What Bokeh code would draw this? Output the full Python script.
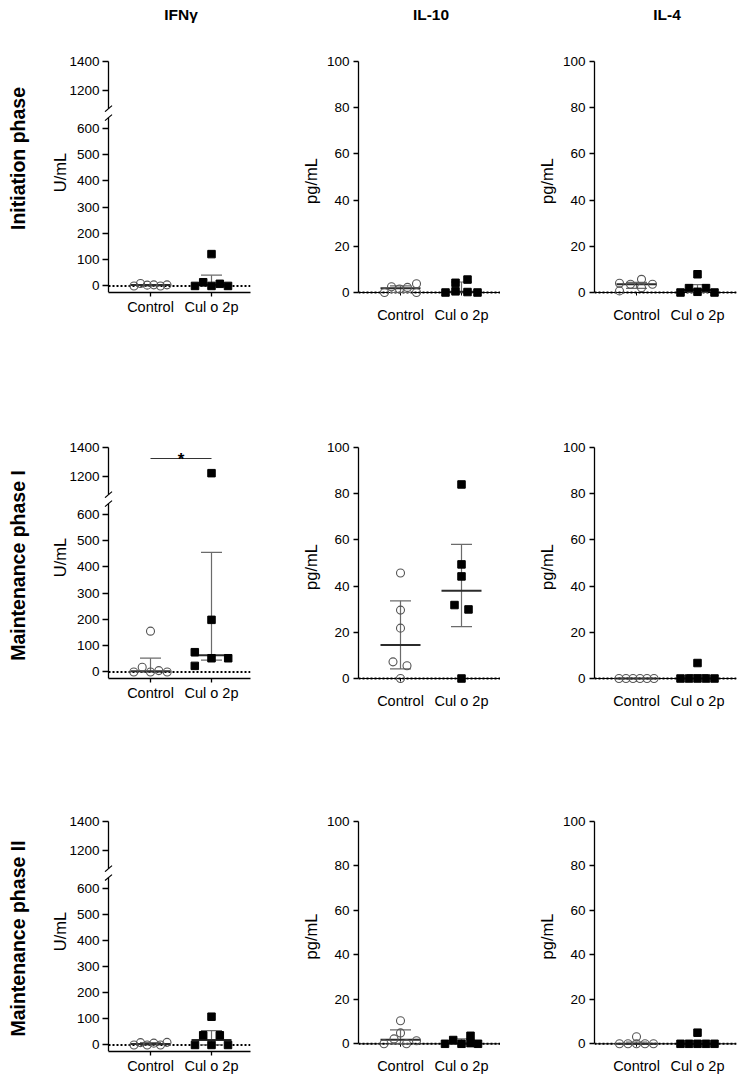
import numpy as np
from bokeh.plotting import figure
from bokeh.layouts import row, column
from bokeh.models import Range1d, FixedTicker, Label, Title
from bokeh.core.properties import value
from bokeh.embed import file_html
from bokeh.resources import INLINE

FONT = "Liberation Sans"

# ---------------------------------------------------------------- data
groups = ["Control", "Cul o 2p"]
phases = ["Initiation phase", "Maintenance phase I", "Maintenance phase II"]
cytokines = ["IFNγ", "IL-10", "IL-4"]
units = ["U/mL", "pg/mL", "pg/mL"]

ifng_ticks_low = [0, 100, 200, 300, 400, 500, 600]
ifng_ticks_high = [1200, 1400]
il_ticks = [0, 20, 40, 60, 80, 100]

# IFNγ, U/mL (six animals per group)
ifng_control_initiation = [0, 9, 3, 4, 0, 4]
ifng_cul_initiation = [0, 14, 0, 8, 0, 121]
ifng_control_maint1 = [0, 18, 0, 155, 5, 0]
ifng_cul_maint1 = [75, 23, 52, 1223, 198, 52]
ifng_control_maint2 = [0, 9, 0, 7, 0, 10]
ifng_cul_maint2 = [0, 37, 0, 37, 0, 108]

# IL-10, pg/mL
il10_control_initiation = [0, 2.5, 1.5, 2.2, 3.8, 0]
il10_cul_initiation = [0, 4.2, 0.5, 5.6, 0.2, 0]
il10_control_maint1 = [0, 7.2, 21.8, 29.6, 45.7, 5.5]
il10_cul_maint1 = [0, 31.8, 29.9, 44.2, 49.4, 84.0]
il10_control_maint2 = [0, 2.2, 10.4, 4.9, 0, 1.4]
il10_cul_maint2 = [0, 1.7, 0, 3.6, 0.3, 0]

# IL-4, pg/mL
il4_control_initiation = [0.7, 4.0, 3.6, 5.7, 2.1, 3.6]
il4_cul_initiation = [0, 1.9, 7.9, 0.3, 1.9, 0]
il4_control_maint1 = [0, 0, 0, 0, 0, 0]
il4_cul_maint1 = [0, 0, 6.7, 0, 0, 0]
il4_control_maint2 = [0, 0, 3.2, 0, 0, 0]
il4_cul_maint2 = [0, 0, 5.0, 0, 0, 0]

# significant difference (Maintenance phase I, IFNγ)
sig_level_ifng_maint1 = 1324
sig_text = "*"

# ------------------------------------------------- horizontal scatter of dots
# pixel offsets of each dot from its group column (same order as the values)
SIX_EVEN = [-16.5, -10, -3.3, 3.3, 10, 16.5]
FIVE_PLUS_ONE = [-16.5, -8.3, 0, 8.3, 16.5, 0]
spread = {
    ("ifng", 0): (SIX_EVEN, FIVE_PLUS_ONE),
    ("ifng", 1): ([-16.7, -8.3, 0, 0, 8.3, 16.7], [-16.7, -16.7, 0, 0, 0, 16.7]),
    ("ifng", 2): (SIX_EVEN, FIVE_PLUS_ONE),
    ("il10", 0): ([-16, -9, -1, 7, 16, 16], [-16, -6, -6, 6, 6, 16]),
    ("il10", 1): ([0, -7.5, 0, 0, 0, 6.5], [0, -7, 7, 0, 0, 0]),
    ("il10", 2): ([-16.5, -6.5, 0, 0, 6, 16], [-16.5, -8.3, 0, 9, 9, 16.5]),
    ("il4", 0): ([-17, -17, -6, 5, 5, 16], [-17, -8.5, 0, 0, 8.5, 17]),
    ("il4", 1): ([-17.5, -10.5, -3.5, 3.5, 10.5, 17.5], [-17, -8.5, 0, 0, 8.5, 17]),
    ("il4", 2): ([-17, -8.5, 0, 0, 8.5, 17], [-17, -8.5, 0, 0, 8.5, 17]),
}

# ---------------------------------------------------------------- geometry
HEADER_H = 30
STRIP_W = 40
X_STEP_PX = 61.0      # pixels between the two group columns
CTRL_PX = 42.0        # Control column, pixels right of the y axis
FRAME_W = 142.0       # x axis length in pixels
AXIS_PAD = 6.0        # room left of the broken y axis for its break marks
IFNG_W = 260 - STRIP_W
IFNG_LEFT = 102 - STRIP_W

ROW_TOP = [0, 386, 760]
IL_H = [386, 374, 286]
IL_BOTTOM = [116, 104, 16]
IFNG_BOT_H = [304, 292, 204]
IFNG_BOT_BORDER = [124, 112, 24]

TOP_PX = 0.145        # px per U/mL, upper segment
BOT_PX = 0.263        # px per U/mL, lower segment
TOP_AXIS = (1075, 1400)
BOT_AXIS = (-25, 640)
TOP_Y1 = 1400 + 5 / TOP_PX
TOP_Y0 = TOP_Y1 - 56 / TOP_PX
BOT_Y1 = -25 + 179 / BOT_PX

IL_PX = 2.31          # px per pg/mL
IL_Y0 = 100 - 239 / IL_PX

MED_HALF = 20 / X_STEP_PX
CAP_HALF = 10.5 / X_STEP_PX
BAR_GREY = "#6b6b6b"
MED_COLOR = "#2b2b2b"
CIRCLE_LINE = "#555555"

TICK_FONT = "13.5px"
XLAB_FONT = "14.5px"
TITLE_FONT = "16.5px"

phase_mid = [158, 565, 938]   # page y of the phase labels
unit_mid = [172, 557, 932]    # page y of the IFNγ unit labels
UNIT_HALF_LEN = 19.7          # half the length of the "U/mL" text in px


def base_fig(**kw):
    p = figure(toolbar_location=None, output_backend="svg", **kw)
    p.grid.visible = False
    p.outline_line_color = None
    p.background_fill_color = "white"
    p.border_fill_color = "white"
    return p


def style_y(ax, ticks):
    ax.ticker = FixedTicker(ticks=ticks)
    ax.minor_tick_line_color = None
    ax.major_label_text_font = FONT
    ax.major_label_text_font_size = TICK_FONT
    ax.major_label_text_color = "black"
    ax.major_tick_line_color = "black"
    ax.major_tick_line_width = 1.3


def style_x(ax):
    ax.ticker = FixedTicker(ticks=[1, 2])
    ax.major_label_overrides = {1: groups[0], 2: groups[1]}
    ax.minor_tick_line_color = None
    ax.major_label_text_font = FONT
    ax.major_label_text_font_size = XLAB_FONT
    ax.major_label_text_color = "black"


def draw_summary(p, xc, vals):
    q1, med, q3 = np.percentile(vals, [25, 50, 75], method="weibull")
    p.segment(x0=[xc], y0=[q1], x1=[xc], y1=[q3], line_color=BAR_GREY, line_width=1.2)
    p.segment(x0=[xc - CAP_HALF] * 2, y0=[q1, q3], x1=[xc + CAP_HALF] * 2, y1=[q1, q3],
              line_color=BAR_GREY, line_width=1.2)
    p.segment(x0=[xc - MED_HALF], y0=[med], x1=[xc + MED_HALF], y1=[med],
              line_color=MED_COLOR, line_width=2)


def draw_points(p, xc, vals, offs, kind):
    if not vals:
        return
    xs = [xc + o / X_STEP_PX for o in offs]
    if kind == "circle":
        p.scatter(x=xs, y=vals, marker="circle", size=8, fill_color=None,
                  line_color=CIRCLE_LINE, line_width=1.1)
    else:
        p.scatter(x=xs, y=vals, marker="square", size=7.5, fill_color="black",
                  line_color="black")


def ifng_panel(r, ctrl, cul):
    offs_c, offs_k = spread[("ifng", r)]
    x0 = 1 + (-CTRL_PX - AXIS_PAD) / X_STEP_PX
    x1 = 1 + (FRAME_W - CTRL_PX) / X_STEP_PX
    ax_x = 1 - CTRL_PX / X_STEP_PX
    dx = 3.5 / X_STEP_PX

    top = base_fig(width=IFNG_W, height=82, x_range=Range1d(x0, x1),
                   y_range=Range1d(TOP_Y0, TOP_Y1), x_axis_location=None,
                   min_border_left=IFNG_LEFT, min_border_right=10,
                   min_border_top=26, min_border_bottom=0)
    bot = base_fig(width=IFNG_W, height=IFNG_BOT_H[r], x_range=Range1d(x0, x1),
                   y_range=Range1d(BOT_AXIS[0], BOT_Y1),
                   min_border_left=IFNG_LEFT, min_border_right=10,
                   min_border_top=1, min_border_bottom=IFNG_BOT_BORDER[r])

    for p, ticks in ((top, ifng_ticks_high), (bot, ifng_ticks_low)):
        style_y(p.yaxis, ticks)
        p.yaxis.axis_line_color = None
        p.yaxis.major_tick_in = 6
        p.yaxis.major_tick_out = 0
        p.yaxis.major_label_standoff = 3

    # unit title, raised so that it sits at the middle of the whole broken axis
    frame_bottom = 292 + ROW_TOP[r]
    bot.add_layout(Title(text=units[0], align="left",
                         offset=frame_bottom - unit_mid[r] - UNIT_HALF_LEN,
                         vertical_align="bottom", standoff=10,
                         text_font=FONT, text_font_size=TITLE_FONT,
                         text_font_style="normal", text_color="black"), "left")

    # y axis line of each segment, with its break mark
    top.segment(x0=[ax_x], y0=[TOP_AXIS[0]], x1=[ax_x], y1=[TOP_AXIS[1]],
                line_color="black", line_width=1.3)
    dyt = 3 / TOP_PX
    top.segment(x0=[ax_x - dx], y0=[TOP_AXIS[0] - dyt], x1=[ax_x + dx], y1=[TOP_AXIS[0] + dyt],
                line_color="black", line_width=1.2)
    bot.segment(x0=[ax_x], y0=[BOT_AXIS[0]], x1=[ax_x], y1=[BOT_AXIS[1]],
                line_color="black", line_width=1.3)
    dyb = 3 / BOT_PX
    bot.segment(x0=[ax_x - dx], y0=[BOT_AXIS[1] - dyb], x1=[ax_x + dx], y1=[BOT_AXIS[1] + dyb],
                line_color="black", line_width=1.2)

    style_x(bot.xaxis)
    bot.xaxis.bounds = (ax_x, x1)
    bot.xaxis.axis_line_width = 1.3
    bot.xaxis.major_tick_out = 4
    bot.xaxis.major_tick_in = 0
    bot.xaxis.major_tick_line_width = 1.3
    bot.xaxis.major_label_standoff = 2

    # dotted zero line
    bot.segment(x0=[ax_x], y0=[0], x1=[x1], y1=[0], line_color="black",
                line_width=2, line_dash="2 2")

    for xc, vals, offs, kind in ((1, ctrl, offs_c, "circle"), (2, cul, offs_k, "square")):
        draw_summary(bot, xc, vals)
        low = [(v, o) for v, o in zip(vals, offs) if v < TOP_AXIS[0]]
        high = [(v, o) for v, o in zip(vals, offs) if v >= TOP_AXIS[0]]
        draw_points(bot, xc, [v for v, _ in low], [o for _, o in low], kind)
        draw_points(top, xc, [v for v, _ in high], [o for _, o in high], kind)

    if r == 1:
        top.segment(x0=[1], y0=[sig_level_ifng_maint1], x1=[2], y1=[sig_level_ifng_maint1],
                    line_color="#333333", line_width=1.2)
        top.text(x=[1.5], y=[sig_level_ifng_maint1 - 10], text=[sig_text],
                 text_font=value(FONT), text_font_style="bold", text_font_size="17px",
                 text_align="center", text_baseline="alphabetic", text_color="black")
    return [top, bot]


def il_panel(r, key, ctrl, cul, left_border, right_border):
    offs_c, offs_k = spread[(key, r)]
    x0 = 1 - CTRL_PX / X_STEP_PX
    x1 = 1 + (FRAME_W - CTRL_PX) / X_STEP_PX
    p = base_fig(width=240, height=IL_H[r], x_range=Range1d(x0, x1),
                 y_range=Range1d(IL_Y0, 100),
                 min_border_left=left_border, min_border_right=right_border,
                 min_border_top=31, min_border_bottom=IL_BOTTOM[r])
    style_y(p.yaxis, il_ticks)
    p.yaxis.bounds = (0, 100)
    p.yaxis.axis_line_width = 1.3
    p.yaxis.major_tick_out = 5
    p.yaxis.major_tick_in = 0
    p.yaxis.major_label_standoff = 4
    p.yaxis.axis_label = units[1]
    p.yaxis.axis_label_text_font = FONT
    p.yaxis.axis_label_text_font_size = TITLE_FONT
    p.yaxis.axis_label_text_font_style = "normal"
    p.yaxis.axis_label_text_color = "black"
    p.yaxis.axis_label_standoff = 4

    style_x(p.xaxis)
    p.xaxis.axis_line_color = None
    p.xaxis.major_tick_line_color = None
    p.xaxis.major_label_standoff = 0

    # baseline with dotted zero line and small group ticks
    p.segment(x0=[x0], y0=[0], x1=[x1], y1=[0], line_color="black", line_width=1)
    p.segment(x0=[x0], y0=[0], x1=[x1], y1=[0], line_color="black",
              line_width=2, line_dash="2 2")
    p.segment(x0=[1, 2], y0=[0, 0], x1=[1, 2], y1=[-3 / IL_PX] * 2,
              line_color="black", line_width=1)

    for xc, vals, offs, kind in ((1, ctrl, offs_c, "circle"), (2, cul, offs_k, "square")):
        draw_summary(p, xc, vals)
        draw_points(p, xc, vals, offs, kind)
    return p


ifng = [(ifng_control_initiation, ifng_cul_initiation),
        (ifng_control_maint1, ifng_cul_maint1),
        (ifng_control_maint2, ifng_cul_maint2)]
il10 = [(il10_control_initiation, il10_cul_initiation),
        (il10_control_maint1, il10_cul_maint1),
        (il10_control_maint2, il10_cul_maint2)]
il4 = [(il4_control_initiation, il4_cul_initiation),
       (il4_control_maint1, il4_cul_maint1),
       (il4_control_maint2, il4_cul_maint2)]

col1 = []
for r in range(3):
    col1 += ifng_panel(r, *ifng[r])
col2 = [il_panel(r, "il10", *il10[r], 98, 0) for r in range(3)]
col3 = [il_panel(r, "il4", *il4[r], 94, 4) for r in range(3)]

# column headers
header = base_fig(width=740, height=HEADER_H, x_range=Range1d(0, 740),
                  y_range=Range1d(0, HEADER_H), x_axis_location=None, y_axis_location=None,
                  min_border_left=0, min_border_right=0, min_border_top=0, min_border_bottom=0)
header_x = [108 + CTRL_PX + X_STEP_PX / 2, 358 + CTRL_PX + X_STEP_PX / 2,
            594 + CTRL_PX + X_STEP_PX / 2]
for hx, name in zip(header_x, cytokines):
    header.add_layout(Label(x=hx, y=HEADER_H - 14, text=name, text_font=FONT,
                            text_font_style="bold", text_font_size="15.5px",
                            text_align="center", text_baseline="middle",
                            text_color="black"))

# phase labels
strip_h = 1076 - HEADER_H
strip = base_fig(width=STRIP_W, height=strip_h, x_range=Range1d(0, STRIP_W),
                 y_range=Range1d(0, strip_h), x_axis_location=None, y_axis_location=None,
                 min_border_left=0, min_border_right=0, min_border_top=0, min_border_bottom=0)
for name, c in zip(phases, phase_mid):
    strip.add_layout(Label(x=17.5, y=1076 - c, text=name, angle=np.pi / 2,
                           text_font=FONT, text_font_style="bold", text_font_size="19.5px",
                           text_align="center", text_baseline="alphabetic",
                           text_color="black"))

layout = column(header, row(strip, column(*col1), column(*col2), column(*col3)))

with open("out.html", "w") as f:
    f.write(file_html(layout, INLINE))
